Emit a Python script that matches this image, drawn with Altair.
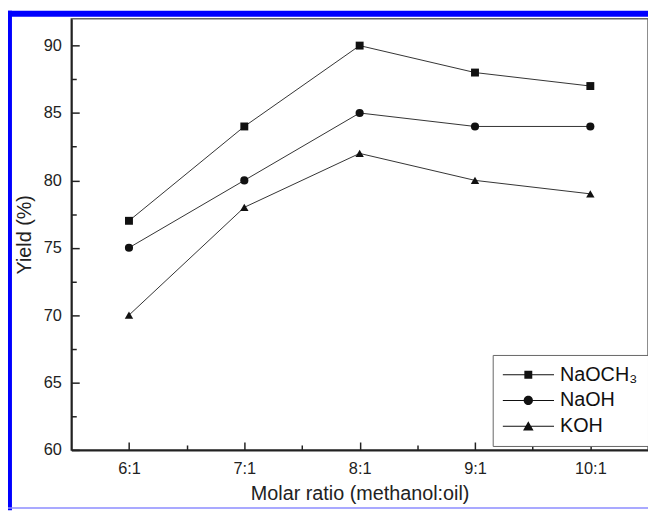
import altair as alt
import pandas as pd

# ---- data ----
ratios = [6, 7, 8, 9, 10]
series_names = ["NaOCH₃", "NaOH", "KOH"]
naoch3 = [77, 84, 90, 88, 87]
naoh = [75, 80, 85, 84, 84]
koh = [70, 78, 82, 80, 79]

x_tick_values = [6, 6.5, 7, 7.5, 8, 8.5, 9, 9.5, 10]
y_tick_values = [60, 62.5, 65, 67.5, 70, 72.5, 75, 77.5, 80, 82.5, 85, 87.5, 90]

rows = []
for name, vals in zip(series_names, [naoch3, naoh, koh]):
    for r, v in zip(ratios, vals):
        rows.append({"ratio": r, "yield": v, "series": name})
df = pd.DataFrame(rows)

FONT = "Liberation Sans"

x_enc = alt.X(
    "ratio:Q",
    scale=alt.Scale(domain=[5.5, 10.5], nice=False, zero=False),
    axis=alt.Axis(
        title="Molar ratio (methanol:oil)",
        values=x_tick_values,
        labelExpr="datum.value % 1 == 0 ? datum.value + ':1' : ''",
        tickSize={"condition": {"test": "datum.value % 1 != 0", "value": -5}, "value": -8},
        labelPadding=19,
        titlePadding=7,
        grid=False,
    ),
)
y_enc = alt.Y(
    "yield:Q",
    scale=alt.Scale(domain=[60, 92], nice=False, zero=False),
    axis=alt.Axis(
        title="Yield (%)",
        values=y_tick_values,
        labelExpr="datum.value % 5 == 0 ? datum.label : ''",
        tickSize={"condition": {"test": "datum.value % 5 != 0", "value": -5}, "value": -8},
        labelPadding=18,
        titlePadding=9,
        grid=False,
    ),
)

lines = alt.Chart(df).mark_line(color="#333", strokeWidth=1).encode(
    x=x_enc, y=y_enc, detail="series:N"
)

points = alt.Chart(df).mark_point(filled=True, color="#111", opacity=1).encode(
    x=x_enc,
    y=y_enc,
    shape=alt.Shape(
        "series:N",
        scale=alt.Scale(domain=series_names, range=["square", "circle", "triangle-up"]),
        legend=None,
    ),
    size=alt.Size(
        "series:N",
        scale=alt.Scale(domain=series_names, range=[64, 72, 110]),
        legend=None,
    ),
)

legend_paths = [
    "M-1,-0.02H-0.154V0.02H-1Z M0.154,-0.02H1V0.02H0.154Z M-0.154,-0.154H0.154V0.154H-0.154Z",
    "M-1,-0.02H-0.175V0.02H-1Z M0.175,-0.02H1V0.02H0.175Z M-0.18,0A0.18,0.18,0,1,1,0.18,0A0.18,0.18,0,1,1,-0.18,0Z",
    "M-1,-0.02H-0.1V0.02H-1Z M0.1,-0.02H1V0.02H0.1Z M0,-0.19L0.205,0.165L-0.205,0.165Z",
]

legend_layer = (
    alt.Chart(df)
    .transform_filter("false")
    .mark_point(filled=True, color="#111", opacity=1)
    .encode(
        x=x_enc,
        y=y_enc,
        shape=alt.Shape(
            "series:N",
            scale=alt.Scale(domain=series_names, range=legend_paths),
            legend=alt.Legend(
                title=None,
                orient="none",
                legendX=426,
                legendY=340,
                fillColor="white",
                strokeColor="#666",
                padding=10,
                symbolSize=2704,
                clipHeight=20,
                rowPadding=6,
                labelFont=FONT,
                labelFontSize=20,
                labelColor="#111",
                labelOffset=6,
                symbolStrokeWidth=0,
                symbolOpacity=1,
            ),
        ),
    )
)

one = pd.DataFrame({"k": [0]})
border_left = alt.Chart(one).mark_rect(color="#0000ff").encode(
    x=alt.value(-64), x2=alt.value(-60), y=alt.value(-8), y2=alt.value(497)
)
border_top = alt.Chart(one).mark_rect(color="#0000ff").encode(
    x=alt.value(-64), x2=alt.value(583), y=alt.value(-8), y2=alt.value(-2)
)
border_bottom = alt.Chart(one).mark_rect(color="#8c8cff").encode(
    x=alt.value(-64), x2=alt.value(583), y=alt.value(494), y2=alt.value(495.5)
)

chart = (
    alt.layer(border_left, border_top, border_bottom, lines, points, legend_layer)
    .resolve_scale(shape="independent", size="independent")
    .properties(
        width=583,
        height=436,
        autosize=alt.AutoSizeParams(type="none"),
        padding={"left": 64, "top": 8, "right": 0, "bottom": 61},
    )
    .configure_view(stroke="#666", strokeWidth=1.5)
    .configure_axis(
        domainColor="#222",
        domainWidth=2,
        tickColor="#222",
        tickWidth=1.5,
        labelFont=FONT,
        labelFontSize=16.5,
        labelColor="#222",
        titleFont=FONT,
        titleFontSize=20,
        titleFontWeight="normal",
        titleColor="#222",
    )
)

chart.save("out.html", embed_options={"renderer": "svg", "actions": False})
